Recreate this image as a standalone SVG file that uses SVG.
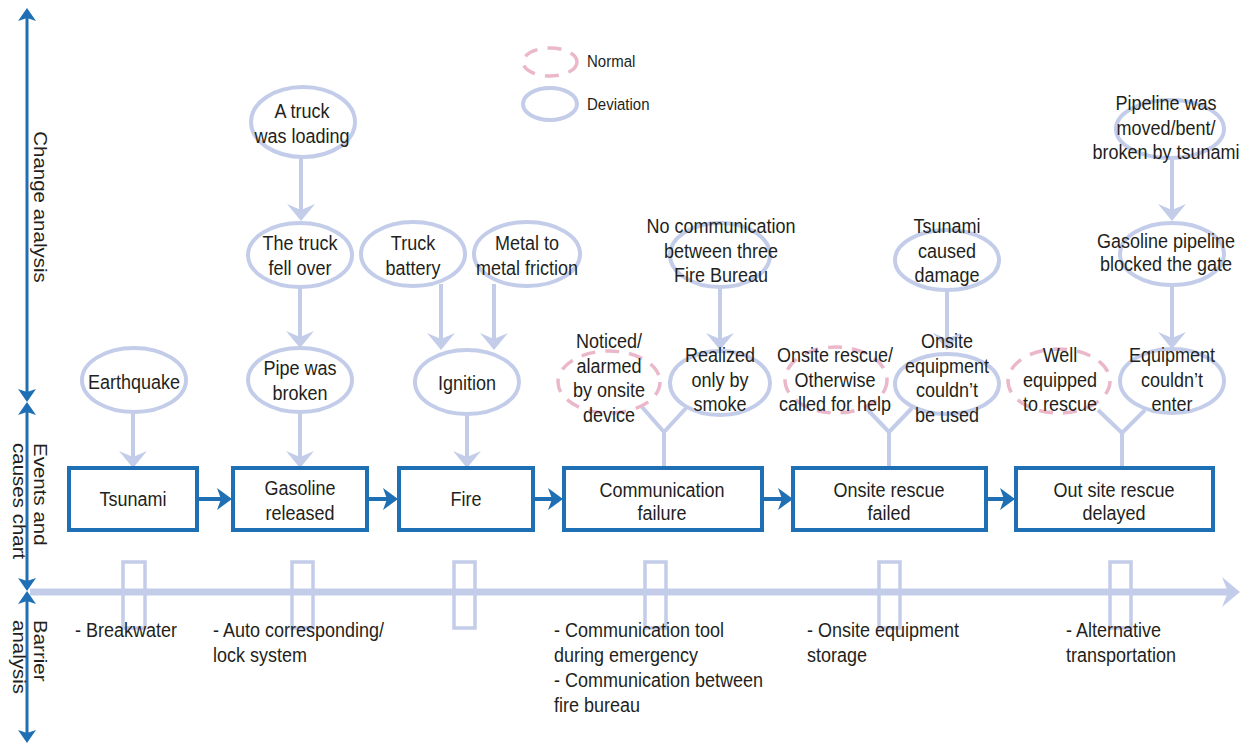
<svg xmlns="http://www.w3.org/2000/svg" width="1254" height="746" viewBox="0 0 1254 746">
<style>
.t{font-family:"Liberation Sans",Arial,sans-serif;font-size:18px;fill:#231f20;text-anchor:middle}
.l{text-anchor:start}
.lg{font-size:15px;text-anchor:start}
.dev{fill:none;stroke:#c3cde9;stroke-width:4}
.nor{fill:none;stroke:#eab8ca;stroke-width:3.5;stroke-dasharray:14 10}
.box{fill:#fff;stroke:#1e6fb4;stroke-width:4}
.conn{fill:none;stroke:#c3cde9;stroke-width:4}
.bar{fill:none;stroke:#c3cde9;stroke-width:3.5}
.ax{stroke:#1e6fb4;stroke-width:3;fill:none}
.barr{stroke:#1e6fb4;stroke-width:4;fill:none}
</style>
<defs>
<marker id="axm" viewBox="0 0 13 18" markerWidth="13" markerHeight="18" refX="6" refY="9" orient="auto-start-reverse" markerUnits="userSpaceOnUse"><path d="M0,0 L13,9 L0,18 L3,9 z" fill="#1e6fb4"/></marker>
<marker id="bxm" viewBox="0 0 15 22" markerWidth="15" markerHeight="22" refX="7" refY="11" orient="auto" markerUnits="userSpaceOnUse"><path d="M0,0 L15,11 L0,22 L4,11 z" fill="#1e6fb4"/></marker>
<marker id="lm" viewBox="0 0 17 28" markerWidth="17" markerHeight="28" refX="9" refY="14" orient="auto" markerUnits="userSpaceOnUse"><path d="M0,0 L17,14 L0,28 L6,14 z" fill="#c3cde9"/></marker>
<marker id="hm" viewBox="0 0 18 30" markerWidth="18" markerHeight="30" refX="9" refY="15" orient="auto" markerUnits="userSpaceOnUse"><path d="M0,0 L18,15 L0,30 L6,15 z" fill="#c3cde9"/></marker>
</defs>
<rect width="1254" height="746" fill="#fff"/>

<g id="axes">
<line class="ax" x1="27" y1="15" x2="27" y2="395" marker-start="url(#axm)" marker-end="url(#axm)"/>
<line class="ax" x1="27" y1="409" x2="27" y2="584" marker-start="url(#axm)" marker-end="url(#axm)"/>
<line class="ax" x1="27" y1="598" x2="27" y2="736" marker-start="url(#axm)" marker-end="url(#axm)"/>
<line x1="30" y1="592" x2="1231" y2="592" stroke="#c3cde9" stroke-width="7" marker-end="url(#hm)"/>
<text class="t" transform="translate(34,207) rotate(90) scale(1.14,1)">Change analysis</text>
<text class="t l" transform="translate(34,443) rotate(90) scale(1.14,1)"><tspan x="0" y="0">Events and</tspan><tspan x="0" y="21">causes chart</tspan></text>
<text class="t l" transform="translate(34,620) rotate(90) scale(1.14,1)"><tspan x="0" y="0">Barrier</tspan><tspan x="0" y="21">analysis</tspan></text>
</g>

<g id="legend">
<ellipse class="nor" cx="550" cy="62" rx="27" ry="14"/>
<text class="t lg" transform="translate(587,67) scale(1,1.14)">Normal</text>
<ellipse class="dev" cx="550" cy="104" rx="27" ry="16"/>
<text class="t lg" transform="translate(587,110) scale(1,1.14)">Deviation</text>
</g>

<g id="barriers">
<rect class="bar" x="123" y="562" width="22" height="66"/>
<rect class="bar" x="292" y="562" width="21" height="66"/>
<rect class="bar" x="454" y="562" width="21" height="66"/>
<rect class="bar" x="645" y="562" width="21" height="66"/>
<rect class="bar" x="879" y="562" width="21" height="66"/>
<rect class="bar" x="1110" y="562" width="21" height="66"/>
<text class="t l" transform="translate(75,637) scale(1,1.14)">- Breakwater</text>
<text class="t l" transform="translate(213,637) scale(1,1.14)"><tspan x="0" y="0">- Auto corresponding/</tspan><tspan x="0" y="21.8">lock system</tspan></text>
<text class="t l" transform="translate(554,637) scale(1,1.14)"><tspan x="0" y="0">- Communication tool</tspan><tspan x="0" y="21.8">during emergency</tspan><tspan x="0" y="43.6">- Communication between</tspan><tspan x="0" y="65.4">fire bureau</tspan></text>
<text class="t l" transform="translate(807,637) scale(1,1.14)"><tspan x="0" y="0">- Onsite equipment</tspan><tspan x="0" y="21.8">storage</tspan></text>
<text class="t l" transform="translate(1066,637) scale(1,1.14)"><tspan x="0" y="0">- Alternative</tspan><tspan x="0" y="21.8">transportation</tspan></text>
</g>

<g id="connectors">
<line class="barr" x1="198" y1="499" x2="224" y2="499" marker-end="url(#bxm)"/>
<line class="barr" x1="367" y1="499" x2="390" y2="499" marker-end="url(#bxm)"/>
<line class="barr" x1="533" y1="499" x2="555" y2="499" marker-end="url(#bxm)"/>
<line class="barr" x1="762" y1="499" x2="785" y2="499" marker-end="url(#bxm)"/>
<line class="barr" x1="986" y1="499" x2="1007" y2="499" marker-end="url(#bxm)"/>
<line class="conn" x1="133" y1="412" x2="133" y2="460" marker-end="url(#lm)"/>
<line class="conn" x1="300" y1="412" x2="300" y2="460" marker-end="url(#lm)"/>
<line class="conn" x1="301" y1="157" x2="301" y2="213" marker-end="url(#lm)"/>
<line class="conn" x1="300" y1="287" x2="300" y2="340" marker-end="url(#lm)"/>
<line class="conn" x1="441" y1="284" x2="441" y2="342" marker-end="url(#lm)"/>
<line class="conn" x1="494" y1="284" x2="494" y2="342" marker-end="url(#lm)"/>
<line class="conn" x1="467" y1="414" x2="467" y2="460" marker-end="url(#lm)"/>
<line class="conn" x1="720" y1="287" x2="720" y2="342" marker-end="url(#lm)"/>
<line class="conn" x1="947" y1="290" x2="947" y2="342" marker-end="url(#lm)"/>
<line class="conn" x1="1172" y1="158" x2="1172" y2="213" marker-end="url(#lm)"/>
<line class="conn" x1="1172" y1="285" x2="1172" y2="341" marker-end="url(#lm)"/>
<path class="conn" d="M642,407 L664,432 L687,407 M664,432 L664,468"/>
<path class="conn" d="M866,408 L889,432 L912,408 M889,432 L889,468"/>
<path class="conn" d="M1098,410 L1122,433 L1145,410 M1122,433 L1122,468"/>
</g>

<g id="n-tsunami"><rect class="box" x="69" y="468" width="128" height="62"/><text class="t" transform="translate(133,506) scale(1,1.14)">Tsunami</text></g>
<g id="n-gasoline"><rect class="box" x="233" y="468" width="134" height="62"/><text class="t" transform="translate(300,495) scale(1,1.14)"><tspan x="0" y="0">Gasoline</tspan><tspan x="0" y="21.8">released</tspan></text></g>
<g id="n-fire"><rect class="box" x="399" y="468" width="134" height="62"/><text class="t" transform="translate(466,506) scale(1,1.14)">Fire</text></g>
<g id="n-comm"><rect class="box" x="564" y="468" width="198" height="62"/><text class="t" transform="translate(662,497) scale(1,1.14)"><tspan x="0" y="0">Communication</tspan><tspan x="0" y="20.5">failure</tspan></text></g>
<g id="n-onsite"><rect class="box" x="793" y="468" width="193" height="62"/><text class="t" transform="translate(889,497) scale(1,1.14)"><tspan x="0" y="0">Onsite rescue</tspan><tspan x="0" y="20.5">failed</tspan></text></g>
<g id="n-outsite"><rect class="box" x="1016" y="468" width="197" height="62"/><text class="t" transform="translate(1114,497) scale(1,1.14)"><tspan x="0" y="0">Out site rescue</tspan><tspan x="0" y="20.5">delayed</tspan></text></g>

<g id="e-earthquake"><ellipse class="dev" cx="134" cy="380" rx="52" ry="32"/><text class="t" transform="translate(134,389) scale(1,1.14)">Earthquake</text></g>
<g id="e-pipe"><ellipse class="dev" cx="300" cy="380" rx="52" ry="32"/><text class="t" transform="translate(300,375) scale(1,1.14)"><tspan x="0" y="0">Pipe was</tspan><tspan x="0" y="21.8">broken</tspan></text></g>
<g id="e-truckfell"><ellipse class="dev" cx="300" cy="255" rx="52" ry="32"/><text class="t" transform="translate(300,250) scale(1,1.14)"><tspan x="0" y="0">The truck</tspan><tspan x="0" y="21.8">fell over</tspan></text></g>
<g id="e-truckload"><ellipse class="dev" cx="303" cy="122" rx="52" ry="35"/><text class="t" transform="translate(302,118) scale(1,1.14)"><tspan x="0" y="0">A truck</tspan><tspan x="0" y="21.8">was loading</tspan></text></g>
<g id="e-battery"><ellipse class="dev" cx="413" cy="254" rx="52" ry="32"/><text class="t" transform="translate(413,250) scale(1,1.14)"><tspan x="0" y="0">Truck</tspan><tspan x="0" y="21.8">battery</tspan></text></g>
<g id="e-friction"><ellipse class="dev" cx="527" cy="254" rx="53" ry="32"/><text class="t" transform="translate(527,250) scale(1,1.14)"><tspan x="0" y="0">Metal to</tspan><tspan x="0" y="21.8">metal friction</tspan></text></g>
<g id="e-ignition"><ellipse class="dev" cx="467" cy="382" rx="52" ry="32"/><text class="t" transform="translate(467,390) scale(1,1.14)">Ignition</text></g>
<g id="e-noticed"><ellipse class="nor" cx="609" cy="382" rx="51" ry="31"/><text class="t" transform="translate(609,348) scale(1,1.14)"><tspan x="0" y="0">Noticed/</tspan><tspan x="0" y="21.6">alarmed</tspan><tspan x="0" y="43.2">by onsite</tspan><tspan x="0" y="64.8">device</tspan></text></g>
<g id="e-realized"><ellipse class="dev" cx="720" cy="383" rx="50" ry="32"/><text class="t" transform="translate(720,362) scale(1,1.14)"><tspan x="0" y="0">Realized</tspan><tspan x="0" y="21.6">only by</tspan><tspan x="0" y="43.2">smoke</tspan></text></g>
<g id="e-nocomm"><ellipse class="dev" cx="720" cy="255" rx="50" ry="32"/><text class="t" transform="translate(721,233) scale(1,1.14)"><tspan x="0" y="0">No communication</tspan><tspan x="0" y="21.6">between three</tspan><tspan x="0" y="43.2">Fire Bureau</tspan></text></g>
<g id="e-onsiterescue"><ellipse class="nor" cx="836" cy="380" rx="51" ry="33"/><text class="t" transform="translate(835,362) scale(1,1.14)"><tspan x="0" y="0">Onsite rescue/</tspan><tspan x="0" y="21.6">Otherwise</tspan><tspan x="0" y="43.2">called for help</tspan></text></g>
<g id="e-tsunamidmg"><ellipse class="dev" cx="947" cy="260" rx="52" ry="30"/><text class="t" transform="translate(947,233) scale(1,1.14)"><tspan x="0" y="0">Tsunami</tspan><tspan x="0" y="21.6">caused</tspan><tspan x="0" y="43.2">damage</tspan></text></g>
<g id="e-onsiteequip"><ellipse class="dev" cx="947" cy="384" rx="52" ry="30"/><text class="t" transform="translate(947,348) scale(1,1.14)"><tspan x="0" y="0">Onsite</tspan><tspan x="0" y="21.6">equipment</tspan><tspan x="0" y="43.2">couldn’t</tspan><tspan x="0" y="64.8">be used</tspan></text></g>
<g id="e-pipeline"><ellipse class="dev" cx="1170" cy="129" rx="54" ry="29"/><text class="t" transform="translate(1166,110) scale(1,1.14)"><tspan x="0" y="0">Pipeline was</tspan><tspan x="0" y="21.6">moved/bent/</tspan><tspan x="0" y="43.2">broken by tsunami</tspan></text></g>
<g id="e-gaspipe"><ellipse class="dev" cx="1172" cy="254" rx="52" ry="31"/><text class="t" transform="translate(1166,248) scale(1,1.14)"><tspan x="0" y="0">Gasoline pipeline</tspan><tspan x="0" y="20.5">blocked the gate</tspan></text></g>
<g id="e-wellequip"><ellipse class="nor" cx="1059" cy="381" rx="51" ry="32"/><text class="t" transform="translate(1060,362) scale(1,1.14)"><tspan x="0" y="0">Well</tspan><tspan x="0" y="21.6">equipped</tspan><tspan x="0" y="43.2">to rescue</tspan></text></g>
<g id="e-equipenter"><ellipse class="dev" cx="1172" cy="381" rx="52" ry="32"/><text class="t" transform="translate(1172,362) scale(1,1.14)"><tspan x="0" y="0">Equipment</tspan><tspan x="0" y="21.6">couldn’t</tspan><tspan x="0" y="43.2">enter</tspan></text></g>
</svg>
